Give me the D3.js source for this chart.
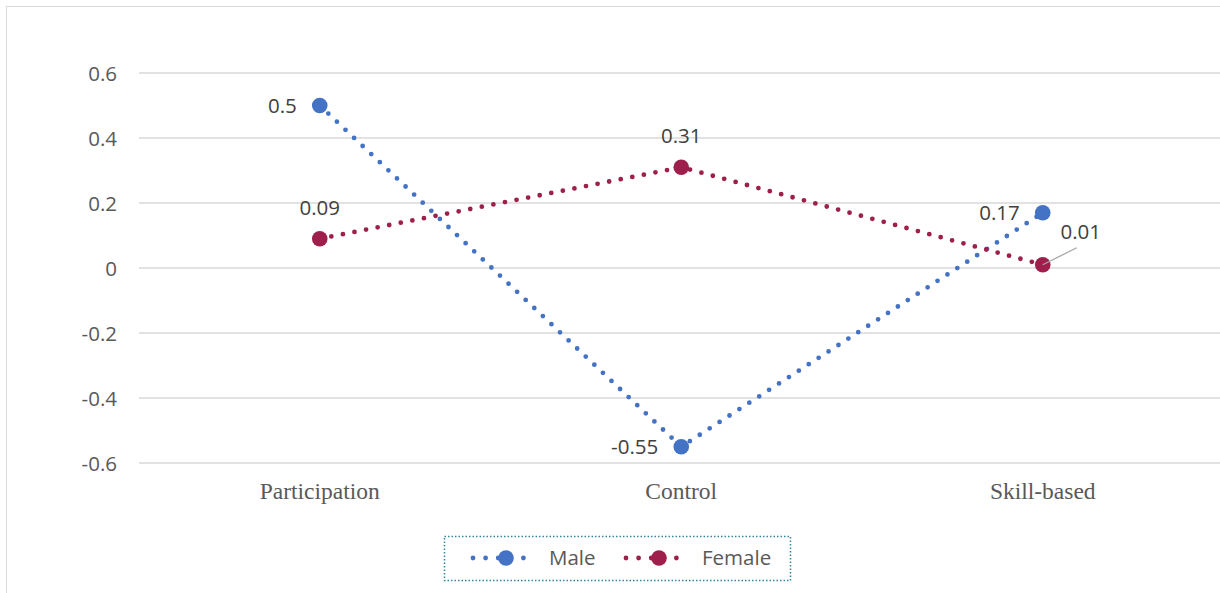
<!DOCTYPE html>
<html><head><meta charset="utf-8">
<script src="https://cdn.jsdelivr.net/npm/d3@7"></script>
<style>body{margin:0;background:#fff}svg{display:block}</style>
</head><body>
<script>
const categories = ["Participation", "Control", "Skill-based"];
const maleValues = [0.5, -0.55, 0.17];
const femaleValues = [0.09, 0.31, 0.01];
const yTicks = [-0.6, -0.4, -0.2, 0, 0.2, 0.4, 0.6];
const seriesNames = ["Male", "Female"];
const colors = ["#4472C4", "#9E1F4B"];

const W = 1220, H = 593;
const svg = d3.select("body").append("svg").attr("width", W).attr("height", H);

// chart frame
svg.append("rect").attr("x", 6.5).attr("y", 6.5).attr("width", W + 10).attr("height", H + 10)
  .attr("fill", "#fff").attr("stroke", "#d9d9d9").attr("stroke-width", 1);

const plotL = 139, plotR = 1223.5;
const x = d3.scaleBand().domain(categories).range([plotL, plotR]);
const y = d3.scaleLinear().domain([-0.6, 0.6]).range([463, 73]);

// gridlines
svg.append("g").selectAll("line").data(yTicks).join("line")
  .attr("x1", plotL).attr("x2", plotR)
  .attr("y1", d => y(d)).attr("y2", d => y(d))
  .attr("stroke", "#d9d9d9").attr("stroke-width", 1.3);

const sansFont = "'Open Sans', sans-serif";
const sansSize = 20.5;

// y axis labels
const yAxis = d3.axisLeft(y).tickValues(yTicks).tickSize(0).tickPadding(0)
  .tickFormat(d => d === 0 ? "0" : String(+d.toFixed(1)));
const gy = svg.append("g").attr("transform", `translate(117,0)`).call(yAxis);
gy.select(".domain").remove();
gy.selectAll("text").attr("font-family", sansFont).attr("font-size", sansSize)
  .attr("fill", "#595959").attr("dy", "0.35em");

// x axis labels
const xAxis = d3.axisBottom(x).tickSize(0).tickPadding(0);
const gx = svg.append("g").attr("transform", `translate(0,491)`).call(xAxis);
gx.select(".domain").remove();
gx.selectAll("text").attr("font-family", "'Liberation Serif', 'Times New Roman', serif")
  .attr("font-size", 23.5).attr("fill", "#595959").attr("dy", "0.35em");

const cx = c => x(c) + x.bandwidth() / 2;
const line = d3.line().x(d => cx(d.c)).y(d => y(d.v));
const allSeries = [maleValues, femaleValues].map((vals, i) => ({
  name: seriesNames[i], color: colors[i],
  pts: vals.map((v, j) => ({c: categories[j], v}))
}));

allSeries.forEach(s => {
  svg.append("path").datum(s.pts).attr("d", line).attr("fill", "none")
    .attr("stroke", s.color).attr("stroke-width", 4.8)
    .attr("stroke-linecap", "round").attr("stroke-dasharray", "0 11.8");
});
allSeries.forEach(s => {
  svg.append("g").selectAll("circle").data(s.pts).join("circle")
    .attr("cx", d => cx(d.c)).attr("cy", d => y(d.v)).attr("r", 7.8)
    .attr("fill", s.color);
});

// data labels
const labels = [
  {s: 0, i: 0, dx: -23, dy: 0, anchor: "end"},
  {s: 0, i: 1, dx: -23, dy: 0, anchor: "end"},
  {s: 0, i: 2, dx: -23, dy: 0, anchor: "end"},
  {s: 1, i: 0, dx: 0, dy: -31, anchor: "middle"},
  {s: 1, i: 1, dx: 0, dy: -31, anchor: "middle"},
  {s: 1, i: 2, dx: 38, dy: -33, anchor: "middle"}
];
labels.forEach(l => {
  const p = allSeries[l.s].pts[l.i];
  svg.append("text").attr("x", cx(p.c) + l.dx).attr("y", y(p.v) + l.dy)
    .attr("dy", "0.35em").attr("text-anchor", l.anchor)
    .attr("font-family", sansFont).attr("font-size", sansSize).attr("fill", "#404040")
    .text(String(p.v));
});
// leader line for 0.01
{
  const p = allSeries[1].pts[2];
  svg.append("line").attr("x1", cx(p.c)).attr("y1", y(p.v))
    .attr("x2", cx(p.c) + 34).attr("y2", y(p.v) - 17)
    .attr("stroke", "#a6a6a6").attr("stroke-width", 1.3);
}

// legend
const lg = svg.append("g");
lg.append("rect").attr("x", 444.5).attr("y", 536.5).attr("width", 346).attr("height", 44)
  .attr("fill", "none").attr("stroke", "#31849B").attr("stroke-width", 1.5)
  .attr("stroke-dasharray", "1.5 2");
const legItems = [{x0: 473, tx: 549}, {x0: 626, tx: 702}];
legItems.forEach((it, i) => {
  const s = allSeries[i];
  lg.append("line").attr("x1", it.x0).attr("x2", it.x0 + 63).attr("y1", 558).attr("y2", 558)
    .attr("stroke", s.color).attr("stroke-width", 4.8).attr("stroke-linecap", "round")
    .attr("stroke-dasharray", "0 12.6");
  lg.append("circle").attr("cx", it.x0 + 33).attr("cy", 558).attr("r", 7.8).attr("fill", s.color);
  lg.append("text").attr("x", it.tx).attr("y", 558).attr("dy", "0.35em")
    .attr("font-family", sansFont).attr("font-size", sansSize).attr("fill", "#595959").text(s.name);
});
</script>
</body></html>
